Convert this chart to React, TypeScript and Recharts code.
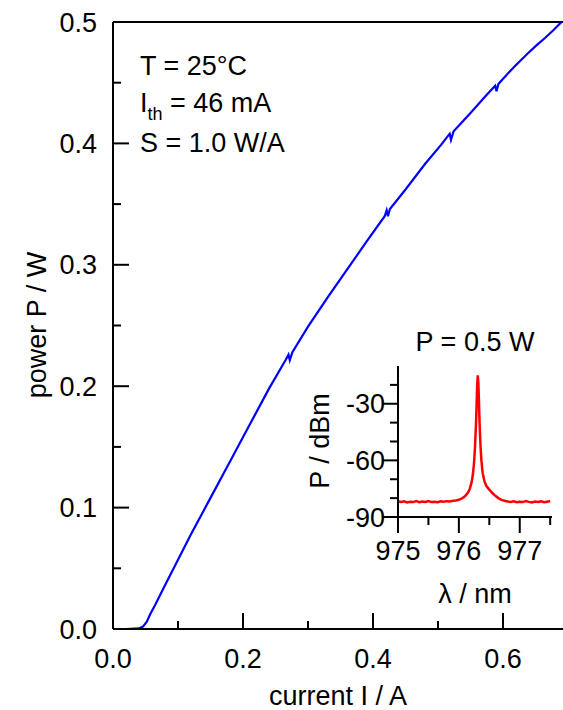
import { Line, LineChart, ReferenceLine, XAxis, YAxis } from "recharts";

// main L-I curve
const currentA = [0, 0.02, 0.04, 0.046, 0.052, 0.057, 0.065, 0.08, 0.1, 0.12, 0.15, 0.18, 0.21, 0.24, 0.266, 0.27, 0.272, 0.276, 0.3, 0.33, 0.36, 0.39, 0.418, 0.421, 0.423, 0.426, 0.45, 0.48, 0.505, 0.518, 0.52, 0.524, 0.55, 0.575, 0.588, 0.59, 0.593, 0.61, 0.62, 0.638, 0.651, 0.665, 0.677, 0.69];
const powerW = [0, 0, 0.0005, 0.002, 0.006, 0.012, 0.02, 0.036, 0.057, 0.078, 0.108, 0.138, 0.168, 0.198, 0.222, 0.226, 0.2215, 0.228, 0.249, 0.273, 0.296, 0.319, 0.34, 0.345, 0.34, 0.346, 0.362, 0.383, 0.399, 0.408, 0.403, 0.41, 0.425, 0.44, 0.4475, 0.443, 0.449, 0.459, 0.4645, 0.474, 0.4805, 0.487, 0.493, 0.5];

// inset spectrum
const wavelengthNm = [975.0, 975.05, 975.1, 975.15, 975.2, 975.25, 975.3, 975.35, 975.4, 975.45, 975.5, 975.55, 975.6, 975.65, 975.7, 975.75, 975.8, 975.85, 975.9, 975.95, 976.0, 976.05, 976.1, 976.15, 976.18, 976.21, 976.23, 976.25, 976.265, 976.28, 976.29, 976.3, 976.31, 976.32, 976.33, 976.34, 976.355, 976.37, 976.39, 976.42, 976.45, 976.5, 976.55, 976.6, 976.65, 976.7, 976.75, 976.8, 976.85, 976.9, 976.95, 977.0, 977.05, 977.1, 977.15, 977.2, 977.25, 977.3, 977.35, 977.4, 977.45, 977.5];
const spectrumDbm = [-81.6, -82.0, -81.7, -82.3, -81.9, -82.1, -81.6, -82.2, -81.8, -82.0, -81.5, -82.1, -81.9, -82.2, -81.7, -81.9, -81.6, -81.8, -81.4, -81.3, -80.9, -80.2, -79.0, -77.0, -75.0, -71.5, -67.5, -61, -53, -42, -32, -21, -15, -19, -29, -40, -52, -60, -66.5, -71, -73.5, -75.5, -77.3, -78.8, -80.0, -80.9, -81.4, -81.8, -82.0, -81.7, -82.2, -81.9, -82.1, -81.6, -82.0, -82.3, -81.8, -82.0, -81.7, -82.2, -81.9, -81.6];

const mainXTicks = [0, 0.1, 0.2, 0.3, 0.4, 0.5, 0.6];
const mainYTicks = [0, 0.05, 0.1, 0.15, 0.2, 0.25, 0.3, 0.35, 0.4, 0.45, 0.5];
const insetXTicks = [975, 975.5, 976, 976.5, 977, 977.5];
const insetYTicks = [-90, -80, -70, -60, -50, -40, -30, -20];

const liData = currentA.map((c, i) => ({ c, p: powerW[i] }));
const specData = wavelengthNm.map((w, i) => ({ w, s: spectrumDbm[i] }));

const FONT = "'Liberation Sans', Arial, Helvetica, sans-serif";
const FS = 27;

const MainXTick = (props: any) => {
  const { x, y, payload } = props;
  const v = payload.value as number;
  const major = Math.round(v * 10) % 2 === 0;
  return (
    <g>
      <line x1={x} x2={x} y1={y} y2={y - (major ? 16 : 8)} stroke="#000" strokeWidth={2} />
      {major && (
        <text x={x} y={y + 39} textAnchor="middle" fontSize={FS} fontFamily={FONT} fill="#000">
          {v.toFixed(1)}
        </text>
      )}
    </g>
  );
};

const MainYTick = (props: any) => {
  const { x, y, payload } = props;
  const v = payload.value as number;
  const major = Math.round(v * 100) % 10 === 0;
  return (
    <g>
      <line x1={x} x2={x + (major ? 16 : 8)} y1={y} y2={y} stroke="#000" strokeWidth={2} />
      {major && (
        <text x={x - 16} y={y + 9.5} textAnchor="end" fontSize={FS} fontFamily={FONT} fill="#000">
          {v.toFixed(1)}
        </text>
      )}
    </g>
  );
};

const InsetXTick = (props: any) => {
  const { x, y, payload } = props;
  const v = payload.value as number;
  const major = Number.isInteger(v);
  return (
    <g>
      <line x1={x} x2={x} y1={y} y2={y + (major ? 16 : 8)} stroke="#000" strokeWidth={2} />
      {major && (
        <text x={x} y={y + 43} textAnchor="middle" fontSize={FS} fontFamily={FONT} fill="#000">
          {v}
        </text>
      )}
    </g>
  );
};

const InsetYTick = (props: any) => {
  const { x, y, payload } = props;
  const v = payload.value as number;
  const major = v % 30 === 0;
  return (
    <g>
      <line x1={x} x2={x - (major ? 15 : 8)} y1={y} y2={y} stroke="#000" strokeWidth={2} />
      {major && (
        <text x={x - 13} y={y + 9.5} textAnchor="end" fontSize={FS} fontFamily={FONT} fill="#000">
          {v}
        </text>
      )}
    </g>
  );
};

const InsetTopTick = (props: any) => {
  const { x, y } = props;
  return <line x1={x} x2={x} y1={y} y2={y - 4} stroke="#000" strokeWidth={2} />;
};

const InsetRightTick = (props: any) => {
  const { x, y } = props;
  return <line x1={x} x2={x + 4} y1={y} y2={y} stroke="#000" strokeWidth={2} />;
};

export default function App() {
  return (
    <div style={{ position: "absolute", left: 0, top: 0, width: 563, height: 710, background: "#fff", fontFamily: FONT }}>
      <div style={{ position: "absolute", left: 0, top: 0 }}>
        <LineChart width={563} height={710} data={liData} margin={{ top: 22, right: 0, bottom: 0, left: 0 }}>
          <XAxis
            dataKey="c"
            type="number"
            domain={[0, 0.6923]}
            allowDataOverflow
            ticks={mainXTicks}
            interval={0}
            height={81}
            tickSize={0}
            tickMargin={0}
            tickLine={false}
            tick={<MainXTick />}
            axisLine={{ stroke: "#000", strokeWidth: 2 }}
            label={{
              content: () => (
                <text x={338} y={705} textAnchor="middle" fontSize={FS} fontFamily={FONT} fill="#000">
                  current I / A
                </text>
              ),
            }}
          />
          <YAxis
            dataKey="p"
            type="number"
            domain={[0, 0.5]}
            allowDataOverflow
            ticks={mainYTicks}
            interval={0}
            width={113}
            tickSize={0}
            tickMargin={0}
            tickLine={false}
            tick={<MainYTick />}
            axisLine={{ stroke: "#000", strokeWidth: 2 }}
            label={{
              content: () => (
                <text
                  x={46}
                  y={325}
                  transform="rotate(-90 46 325)"
                  textAnchor="middle"
                  fontSize={FS}
                  fontFamily={FONT}
                  fill="#000"
                >
                  power P / W
                </text>
              ),
            }}
          />
          <ReferenceLine y={0.5} stroke="#000" strokeWidth={2} />
          <Line dataKey="p" type="linear" stroke="#0000ff" strokeWidth={2.2} dot={false} isAnimationActive={false} />
        </LineChart>
      </div>

      <div style={{ position: "absolute", left: 290, top: 320 }}>
        <LineChart width={273} height={300} data={specData} margin={{ top: 46, right: 11, bottom: 0, left: 0 }}>
          <XAxis
            dataKey="w"
            type="number"
            domain={[975, 977.53]}
            allowDataOverflow
            ticks={insetXTicks}
            interval={0}
            height={103}
            tickSize={0}
            tickMargin={0}
            tickLine={false}
            tick={<InsetXTick />}
            axisLine={{ stroke: "#000", strokeWidth: 2 }}
            label={{
              content: () => (
                <text x={185} y={283} textAnchor="middle" fontSize={FS} fontFamily={FONT} fill="#000">
                  λ / nm
                </text>
              ),
            }}
          />
          <XAxis
            xAxisId="top"
            orientation="top"
            dataKey="w"
            type="number"
            domain={[975, 977.53]}
            allowDataOverflow
            ticks={insetXTicks}
            interval={0}
            height={0}
            tickSize={0}
            tickMargin={0}
            tickLine={false}
            tick={<InsetTopTick />}
            axisLine={{ stroke: "#000", strokeWidth: 2 }}
          />
          <YAxis
            dataKey="s"
            type="number"
            domain={[-90, -10]}
            allowDataOverflow
            ticks={insetYTicks}
            interval={0}
            width={108}
            tickSize={0}
            tickMargin={0}
            tickLine={false}
            tick={<InsetYTick />}
            axisLine={{ stroke: "#000", strokeWidth: 2 }}
            label={{
              content: () => (
                <text
                  x={39}
                  y={121}
                  transform="rotate(-90 39 121)"
                  textAnchor="middle"
                  fontSize={FS}
                  fontFamily={FONT}
                  fill="#000"
                >
                  P / dBm
                </text>
              ),
            }}
          />
          <YAxis
            yAxisId="right"
            orientation="right"
            type="number"
            domain={[-90, -10]}
            allowDataOverflow
            ticks={insetYTicks}
            interval={0}
            width={0}
            tickSize={0}
            tickMargin={0}
            tickLine={false}
            tick={<InsetRightTick />}
            axisLine={{ stroke: "#000", strokeWidth: 2 }}
          />
          <Line dataKey="s" type="linear" stroke="#ff0000" strokeWidth={2.5} dot={false} isAnimationActive={false} />
        </LineChart>
      </div>

      <svg width={563} height={710} style={{ position: "absolute", left: 0, top: 0, pointerEvents: "none" }}>
        <g fontFamily={FONT} fontSize={FS} fill="#000">
          <text x={140} y={75}>T = 25°C</text>
          <text x={140} y={112}>
            I<tspan fontSize={18} dy={8}>th</tspan>
            <tspan dy={-8}> = 46 mA</tspan>
          </text>
          <text x={140} y={152}>S = 1.0 W/A</text>
          <text x={475} y={351} textAnchor="middle">P = 0.5 W</text>
        </g>
      </svg>
    </div>
  );
}
